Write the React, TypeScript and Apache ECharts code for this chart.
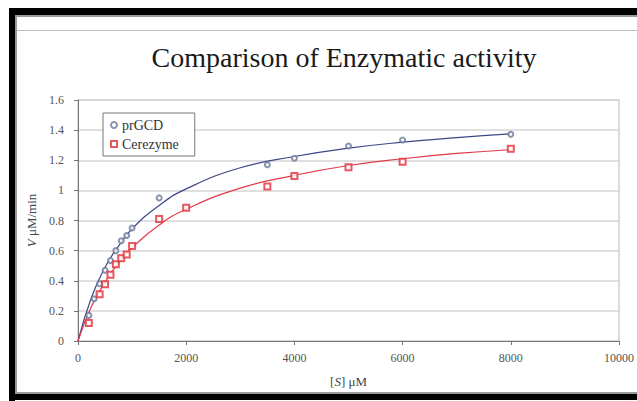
import React, { useEffect, useRef } from "react";
import * as echarts from "echarts";

const prgcdS = [200, 300, 400, 500, 600, 700, 800, 900, 1000, 1500, 3500, 4000, 5000, 6000, 8000];
const prgcdV = [0.17, 0.28, 0.38, 0.47, 0.535, 0.6, 0.665, 0.7, 0.75, 0.95, 1.17, 1.213, 1.295, 1.335, 1.372];

const cereS = [200, 400, 500, 600, 700, 800, 900, 1000, 1500, 2000, 3500, 4000, 5000, 6000, 8000];
const cereV = [0.12, 0.31, 0.377, 0.44, 0.51, 0.55, 0.575, 0.63, 0.81, 0.885, 1.025, 1.096, 1.153, 1.19, 1.277];

const fitS = [0, 250, 500, 750, 1000, 1500, 2000, 3000, 4000, 5000, 6000, 7000, 8000];
const prgcdFit = [0, 0.29, 0.49, 0.63, 0.745, 0.9, 1.01, 1.15, 1.225, 1.28, 1.32, 1.35, 1.375];
const cereFit = [0, 0.23, 0.39, 0.52, 0.62, 0.77, 0.875, 1.015, 1.1, 1.165, 1.21, 1.245, 1.27];

const serif = "'Liberation Serif', 'DejaVu Serif', serif";

export default function App() {
  const ref = useRef<HTMLDivElement>(null);
  useEffect(() => {
    const chart = echarts.init(ref.current!, null, { renderer: "svg" });
    const zip = (xs: number[], ys: number[]) => xs.map((x, i) => [x, ys[i]]);
    chart.setOption({
      animation: false,
      backgroundColor: "#ffffff",
      title: {
        text: "Comparison of Enzymatic activity",
        left: 339,
        textAlign: "center",
        top: 38,
        textStyle: { fontFamily: serif, fontSize: 28, fontWeight: "normal", color: "#1a1a1a" },
      },
      grid: {
        left: 78,
        right: 17,
        top: 100,
        bottom: 60,
        show: true,
        borderColor: "#b8b8b8",
        borderWidth: 1,
      },
      legend: {
        data: ["prGCD", "Cerezyme"],
        orient: "vertical",
        left: 103,
        top: 113,
        borderColor: "#777",
        borderWidth: 1,
        padding: [5, 16, 5, 7],
        itemGap: 5,
        itemWidth: 6,
        itemHeight: 6,
        backgroundColor: "#fff",
        textStyle: { fontFamily: serif, fontSize: 14, color: "#333" },
      },
      xAxis: {
        type: "value",
        min: 0,
        max: 10000,
        interval: 2000,
        name: "[{i|S}] μM",
        nameLocation: "middle",
        nameGap: 34,
        nameTextStyle: {
          fontFamily: serif,
          fontSize: 13,
          color: "#444",
          rich: { i: { fontStyle: "italic", fontFamily: serif, fontSize: 13, color: "#444" } },
        },
        axisLine: { show: true, lineStyle: { color: "#777", width: 1 } },
        axisTick: { show: true, length: 4, lineStyle: { color: "#777" } },
        axisLabel: {
          fontFamily: serif,
          fontSize: 12,
          color: "#555",
          margin: 11,
          formatter: (v: number) => String(v),
        },
        splitLine: { show: false },
      },
      yAxis: {
        type: "value",
        min: 0,
        max: 1.6,
        interval: 0.2,
        name: "{i|V} μM/min",
        nameLocation: "middle",
        nameGap: 33,
        nameRotate: 90,
        nameTextStyle: {
          fontFamily: serif,
          fontSize: 13,
          color: "#444",
          rich: { i: { fontStyle: "italic", fontFamily: serif, fontSize: 13, color: "#444" } },
        },
        axisLine: { show: true, lineStyle: { color: "#777", width: 1 } },
        axisTick: { show: true, length: 4, lineStyle: { color: "#777" } },
        axisLabel: { fontFamily: serif, fontSize: 12, color: "#555", margin: 14 },
        splitLine: { show: true, lineStyle: { color: "#d6d6d6", width: 1.5 } },
      },
      series: [
        {
          name: "prGCD fit",
          type: "line",
          smooth: true,
          showSymbol: false,
          data: zip(fitS, prgcdFit),
          lineStyle: { color: "#3d4787", width: 1.2 },
          itemStyle: { color: "#3d4787" },
          z: 2,
        },
        {
          name: "Cerezyme fit",
          type: "line",
          smooth: true,
          showSymbol: false,
          data: zip(fitS, cereFit),
          lineStyle: { color: "#e03a48", width: 1.2 },
          itemStyle: { color: "#e03a48" },
          z: 2,
        },
        {
          name: "prGCD",
          type: "scatter",
          symbol: "emptyCircle",
          symbolSize: 5,
          data: zip(prgcdS, prgcdV),
          itemStyle: { color: "#6a7898", borderWidth: 0.8 },
          z: 3,
        },
        {
          name: "Cerezyme",
          type: "scatter",
          symbol: "emptyRect",
          symbolSize: 6,
          data: zip(cereS, cereV),
          itemStyle: { color: "#e0303a", borderWidth: 0.9 },
          z: 3,
        },
      ],
      graphic: [
        { type: "line", shape: { x1: 15, y1: 30.5, x2: 637, y2: 30.5 }, style: { stroke: "#bdbdbd", lineWidth: 1 } },
        { type: "rect", shape: { x: 9, y: 8, width: 628, height: 7 }, style: { fill: "#000" } },
        { type: "rect", shape: { x: 15, y: 15, width: 622, height: 2 }, style: { fill: "#9a9a9a" } },
        { type: "rect", shape: { x: 9, y: 8, width: 6, height: 393 }, style: { fill: "#000" } },
        { type: "rect", shape: { x: 15, y: 15, width: 2, height: 378 }, style: { fill: "#9a9a9a" } },
        { type: "rect", shape: { x: 9, y: 394, width: 628, height: 6 }, style: { fill: "#000" } },
        { type: "rect", shape: { x: 15, y: 392, width: 622, height: 2 }, style: { fill: "#9a9a9a" } },
      ],
    });
    return () => chart.dispose();
  }, []);
  return (
    <div
      ref={ref}
      style={{ position: "absolute", left: 0, top: 0, width: 637, height: 401 }}
    />
  );
}
